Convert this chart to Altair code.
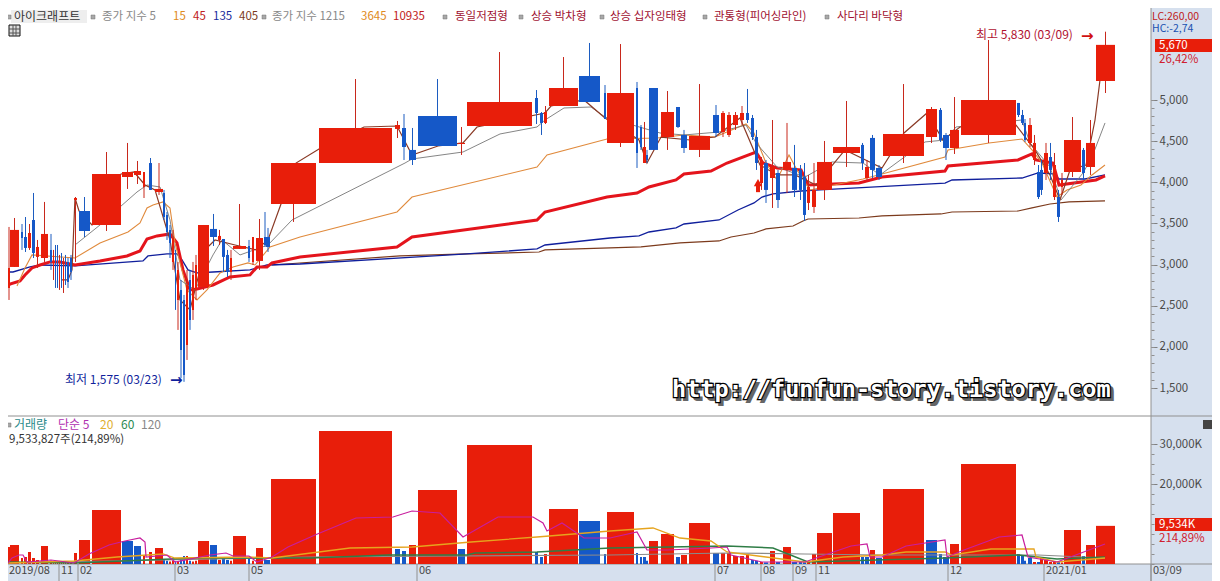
import altair as alt
import pandas as pd

FONT = "Noto Sans CJK KR"
RED = "#e81e0a"
BLUE = "#1558c8"
PANEL = "#d6e0ee"

# Equivolume candles: horizontal extent is cumulative traded volume. Ten values per line.
cum_start = [8,10,21,24,28,32,36,41,50,53,
 55,57,59,61,63,65,67,70,74,79,
 92,122,134,143,149,155,163,166,169,172,
 175,177,180,183,186,189,192,195,198,210,
 218,222,226,230,233,248,252,256,264,266,
 271,319,395,402,409,418,458,467,535,540,
 544,549,579,604,607,636,640,643,646,649,
 661,676,681,689,713,721,727,733,740,746,
 751,755,760,764,770,776,783,792,799,803,
 807,812,817,833,861,865,870,876,883,926,
 939,943,950,961,1017,1021,1024,1028,1033,1037,
 1040,1044,1049,1053,1057,1061,1064,1082,1086,1096]
cum_end = [10,19,23,27,31,35,39,48,52,54,
 56,58,60,62,64,66,69,72,77,90,
 121,133,141,145,152,163,165,168,171,174,
 176,179,182,185,188,191,194,197,209,217,
 221,225,229,232,246,250,254,263,266,270,
 316,392,400,406,416,457,465,532,538,543,
 547,578,600,606,634,638,642,646,648,658,
 674,680,687,710,719,725,731,738,744,749,
 754,758,763,768,775,780,791,797,802,806,
 810,816,832,860,864,869,875,882,924,937,
 942,949,959,1016,1020,1024,1026,1032,1036,1040,
 1043,1048,1052,1056,1060,1063,1081,1085,1095,1115]
direction = list("RRBBRBRRBR" "BBRBRBBBRB" "RRRRBRBBBR" "BRBBRBRRRB" "RBBRRBRRBB"
                 "RRRBBBRRBB" "RRBBRBBRBB" "RBBRBRRRRB" "BBRBRBRBBB" "RRRRBRBBRR"
                 "BBRRBBBRRB" "BRBRBRRBRR")
body_top = [2959,3421,3396,3335,3384,3542,3214,3372,3178,3117,
 3080,3032,2995,3056,2959,3032,3032,3080,3809,3651,
 4101,4125,4137,4125,4234,3919,3870,3603,3421,3323,
 3117,2935,2692,2570,2752,2813,2874,2995,3481,3433,
 3348,3311,3117,3080,3226,3226,3335,3323,3335,3335,
 4234,4660,4696,4660,4393,4806,4478,4976,5024,4842,
 4854,5146,5292,5085,5085,5146,4672,4429,4332,5146,
 4854,4915,4575,4563,4818,4842,4818,4818,4842,4842,
 4781,4550,4271,4234,4186,4113,4247,4174,4150,4064,
 3943,3907,4247,4429,4454,4186,4539,4174,4587,4891,
 4879,4575,4636,5000,4964,4818,4721,4696,4478,4125,
 4150,4356,4307,4210,3821,4028,4514,4393,4478,5670]
body_bottom = [2716,2971,3323,3202,3202,3141,3093,3080,3032,2959,
 2874,2789,2813,2874,2789,2862,2789,2910,3785,3408,
 3481,4064,4089,3943,3907,3882,3579,3396,3263,3032,
 2692,2570,1963,1659,2023,2327,2449,2692,2728,3335,
 3299,3093,2910,2910,3190,3080,3032,3044,3238,3214,
 3736,4234,4648,4429,4271,4441,4465,4684,4842,4721,
 4721,4927,4976,4769,4478,4356,4429,4234,4271,4393,
 4550,4672,4417,4393,4599,4611,4575,4696,4757,4757,
 4550,4234,3991,3907,4052,3785,4150,3907,3907,3603,
 3749,3700,3907,4356,4234,4052,4150,4064,4320,4550,
 4514,4417,4417,4575,4818,4721,4514,4478,4271,3821,
 3907,4113,4150,3821,3579,3943,4125,4113,4186,5231]
high = [3457,3566,3493,3578,3493,3870,3299,3761,3372,3178,
 3238,3238,3117,3141,3080,3117,3080,3117,3821,3821,
 4368,4478,4259,4125,4295,4234,3907,3639,3481,3421,
 3178,3032,2813,2631,2935,2935,3032,3117,3481,3615,
 3421,3311,3178,3178,3736,3299,3335,3554,3639,3445,
 4234,5255,4745,4830,4660,5255,4672,5583,5121,4854,
 4927,5522,5693,5182,5680,5219,4696,4733,4393,5146,
 5109,4915,4636,5194,4939,4866,4854,4854,4927,5134,
 4818,4636,4307,4271,4757,4150,4721,4454,4210,4234,
 4089,4234,4502,4988,4478,4271,4575,4210,5194,4915,
 4903,4599,5036,5729,4964,4879,4769,4781,4575,4210,
 4271,4478,4478,4356,3907,4113,4793,4417,4757,5830]
low = [2570,2971,3178,3153,3178,3080,2959,3032,2935,2813,
 2716,2716,2692,2716,2655,2752,2716,2813,3032,3335,
 3408,3919,3979,3809,3907,3846,3542,3299,3080,2935,
 2449,2206,1622,1575,1841,2206,2327,2570,2692,3226,
 3238,2910,2849,2813,3190,3032,2995,2935,3214,3153,
 3518,4234,4538,4271,4210,4441,4332,4684,4708,4575,
 4708,4927,4976,4769,4429,4174,4393,4234,4234,4393,
 4393,4660,4356,4307,4550,4550,4550,4636,4696,4721,
 4514,4150,3907,3749,3688,3688,3870,3821,3785,3530,
 3663,3627,3785,4186,4150,4028,4052,4028,4234,4478,
 4490,4271,4344,4478,4793,4696,4490,4429,4210,3797,
 3846,4028,4028,3785,3518,3846,4064,4028,4089,5085]
volume = [4250,4750,1500,1750,3000,1500,1000,4500,800,500,
 600,500,500,400,600,500,400,400,2750,6000,
 13500,5750,4500,2250,3000,4000,1250,800,600,800,
 700,500,1250,2000,2000,800,600,800,5750,4750,
 1000,1500,1000,800,7000,1500,800,4000,1000,1000,
 21250,33250,3750,3250,4750,18500,3750,29750,3000,1750,
 2500,13750,10750,2500,13000,2750,1750,1750,800,5750,
 7500,1750,2250,10250,2750,2750,2750,2000,2000,2500,
 1000,800,500,400,3250,500,4250,500,500,500,
 600,2500,7750,12750,1750,1750,3500,1500,18750,6000,
 2500,1750,5000,25000,2500,2000,800,1500,500,500,
 1750,1000,500,500,500,400,8500,2000,4750,9534]
vol_dir = list("RRRRRRRRRR" "RRRRRRRRRR" "RBBRRRBBRR" "BRBBRBRRRB" "RBBRRBRRBB"
               "RRBBRRBRBB" "RRBBRBBBBR" "RBRRBRRRRR" "BBRBRBRBBB" "RRRRBBRBRB"
               "BBRRBBBBRB" "RRRRBRRBRR")

# Moving averages: (position, price)
ma5_x = [62,68,72,75,79,92,121,134,145,155,170,180,190,205,215,235,256,268,281,296,319,364,397,412,438,463,477,545,551,584,605,639,647,661,690,715,740,760,777,795,816,845,882,904,927,943,960,1016,1035,1050,1060,1070,1086,1095,1100,1105]
ma5_v = [2813,2813,2935,3809,3651,3481,4101,4125,3967,3907,3299,2570,2449,3178,3299,3238,3178,3299,3736,4234,4405,4672,4684,4332,4441,4478,4672,4842,4927,5000,4781,4514,4234,4550,4514,4550,4781,4210,4089,4089,3967,4393,4174,4599,4842,4514,4672,4696,4393,4089,3785,4150,4210,4757,5243,5486]
ma1215_x = [75,100,120,137,147,160,170,180,195,213,222,240,268,292,405,412,463,500,537,545,564,591,605,660,684,719,746,756,777,805,832,863,880,925,945,956,1022,1030,1050,1061,1083,1092,1105]
ma1215_v = [3238,3481,3700,3882,3967,3943,3542,2813,2692,3117,3299,3117,3238,3542,4234,4283,4368,4587,4672,4757,4903,4915,4793,4599,4575,4611,4696,4478,4186,4064,4247,4234,4089,4490,4514,4672,4757,4478,4186,3785,4113,4307,4721]
ma3645_x = [17,25,32,75,100,128,140,147,153,163,170,175,180,187,197,207,220,233,248,255,270,300,397,412,537,547,607,657,684,715,746,754,766,777,789,797,810,863,882,945,948,989,1022,1032,1042,1057,1067,1081,1092,1105]
ma3645_v = [2740,2959,3117,3080,3263,3396,3506,3688,3724,3761,3688,3263,3020,2692,2570,2692,2898,2971,3020,2995,3214,3335,3639,3821,4186,4332,4526,4538,4575,4550,4708,4599,4234,4028,4332,4150,3907,4040,4101,4307,4393,4478,4526,4393,4234,3821,3907,3967,4089,4210]
ma10935_x = [8,10,20,25,32,40,50,60,75,100,127,140,147,157,170,177,183,190,197,213,230,250,257,267,272,300,397,412,537,545,607,637,649,676,684,711,727,756,763,777,801,808,859,882,945,948,1018,1032,1036,1053,1059,1096,1105]
ma10935_v = [2740,2764,2801,2874,2959,2995,3032,3032,2995,3044,3105,3165,3311,3348,3372,3263,2935,2692,2704,2752,2849,2874,2971,2971,3020,3093,3214,3335,3542,3639,3821,3870,3943,4028,4101,4137,4234,4368,4234,4174,4150,3967,3991,4064,4137,4198,4271,4344,4271,4234,3967,4028,4077]
ma135_x = [8,13,30,40,75,143,148,167,177,182,188,197,213,250,267,300,467,537,545,610,639,649,676,684,719,738,754,762,773,801,820,945,952,1022,1038,1054,1059,1085,1105]
ma135_v = [2910,2910,2971,2995,2983,3044,3105,3129,3129,3056,2935,2898,2910,2935,2995,3007,3129,3190,3238,3323,3348,3396,3445,3493,3542,3663,3749,3821,3858,3894,3907,3991,4028,4052,4113,4101,4040,4040,4089]
ma405_x = [272,400,467,539,545,610,641,680,719,731,754,766,793,803,808,859,882,941,952,1018,1032,1050,1069,1105]
ma405_v = [2995,3105,3129,3153,3178,3202,3214,3263,3287,3335,3384,3433,3469,3530,3554,3566,3591,3615,3639,3651,3688,3736,3761,3773]

# Volume averages
v5_x = [8,12,19,23,27,51,74,89,109,125,140,145,146,167,175,210,226,233,249,257,272,288,315,356,393,412,440,463,498,533,543,547,562,584,610,637,647,668,711,727,731,762,805,816,851,867,870,882,906,945,947,964,999,1022,1028,1057,1081,1105]
v5_v = [250,1500,2250,2250,500,1000,250,2500,4750,5750,6500,5500,1750,2250,500,2250,2750,2000,2000,500,1750,4250,7250,11500,11750,13250,12750,6750,11750,11750,10250,8250,10250,6500,6500,8000,3500,3500,4000,4250,2250,500,500,1500,4500,5000,1750,1750,4500,6000,1750,3500,6750,7250,1750,500,2750,5000]
v20_x = [8,74,117,163,175,249,272,350,412,471,537,610,653,680,711,727,758,805,843,882,906,945,952,991,1034,1036,1057,1105]
v20_v = [250,750,1750,2500,1500,1750,1500,4000,4250,5500,6750,8250,9000,6500,5750,3000,2000,500,1750,2250,3000,3000,2250,3750,3750,1750,500,1500]
v60_x = [8,74,195,249,311,389,467,475,537,610,727,773,808,945,1018,1057,1105]
v60_v = [500,250,1500,1500,1500,2250,2250,2750,3000,4000,4500,4000,500,1500,2250,1250,1750]
v120_x = [8,311,610,727,805,882,1038,1105]
v120_v = [250,1750,2250,2750,2500,2250,2250,1500]

price_ticks = [1500, 2000, 2500, 3000, 3500, 4000, 4500, 5000]
price_minor = list(range(1200, 6000, 100))
vol_ticks = [20000, 30000]
vol_minor = list(range(0, 35000, 2500))

month_pos = [59, 78, 175, 249, 417, 715, 761, 793, 816, 948, 1044, 1151]
month_labels = ["11", "02", "03", "05", "06", "07", "08", "09", "11", "12", "2021/01", "03/09"]

W, H = 1204, 573
AX = -(1212 - 1151)
X = alt.Scale(domain=[8, 1212], range=[0, W], nice=False, zero=False)
PY = alt.Scale(domain=[1500, 5000], range=[380, 92], nice=False, zero=False)
VY = alt.Scale(domain=[0, 30000], range=[556, 436], nice=False, zero=False)

df = pd.DataFrame(dict(s=cum_start, e=cum_end, top=body_top, bot=body_bottom, hi=high, lo=low,
                       vol=volume, d=direction, vd=vol_dir))
df["mid"] = (df.s + df.e) / 2
colors = alt.Scale(domain=["R", "B"], range=[RED, BLUE])
wicks = alt.Scale(domain=["R", "B"], range=["#c8281c", "#1c5cc0"])

def line(xs, vs, scale, color, width):
    d = pd.DataFrame({"x": xs, "v": vs})
    return alt.Chart(d).mark_line(color=color, strokeWidth=width, interpolate="linear").encode(
        x=alt.X("x:Q", scale=X, axis=None), y=alt.Y("v:Q", scale=scale, axis=None), order="x:Q")

def panel(x0, y0, x1, y1, color):
    return alt.Chart(pd.DataFrame({"a": [0]})).mark_rect(color=color).encode(
        x=alt.value(x0 - 8), x2=alt.value(x1 - 8), y=alt.value(y0 - 8), y2=alt.value(y1 - 8))

def rule_h(x0, x1, y, color="#909090", w=1):
    return alt.Chart(pd.DataFrame({"a": [0]})).mark_rule(color=color, strokeWidth=w).encode(
        x=alt.value(x0 - 8), x2=alt.value(x1 - 8), y=alt.value(y - 8))

def rule_v(x, y0, y1, color="#909090", w=1):
    return alt.Chart(pd.DataFrame({"a": [0]})).mark_rule(color=color, strokeWidth=w).encode(
        x=alt.value(x - 8), y=alt.value(y0 - 8), y2=alt.value(y1 - 8))

def label(text, x, y, color="#444444", size=12, align="left", font=FONT, weight="normal"):
    return alt.Chart(pd.DataFrame({"t": [text]})).mark_text(
        color=color, fontSize=size, align=align, baseline="middle", font=font, fontWeight=weight
    ).encode(x=alt.value(x - 8), y=alt.value(y - 8), text="t:N")

def bullet(x, y):
    return alt.Chart(pd.DataFrame({"a": [0]})).mark_rect(color="#a8a8a8", stroke="#777777", strokeWidth=0.5).encode(
        x=alt.value(x - 8 - 2), x2=alt.value(x - 8 + 2), y=alt.value(y - 8 - 2), y2=alt.value(y - 8 + 2))

layers = []
# panels
layers += [panel(1151, 8, 1212, 581, PANEL), panel(8, 564, 1212, 581, PANEL)]
layers += [rule_h(8, 1212, 416), rule_h(8, 1212, 564), rule_v(1151, 8, 581)]

# price averages below candles
layers += [
    line(ma405_x, ma405_v, PY, "#7c3a1c", 1.2),
    line(ma135_x, ma135_v, PY, "#101f9c", 1.3),
    line(ma10935_x, ma10935_v, PY, "#e4141c", 3),
    line(ma3645_x, ma3645_v, PY, "#e08a3c", 1.1),
    line(ma1215_x, ma1215_v, PY, "#777777", 0.9),
    line(ma5_x, ma5_v, PY, "#8a3a26", 1.2),
]

# price axis (major and minor) and candles
base = alt.Chart(df)
layers.append(base.mark_rule(strokeWidth=1).encode(
    x=alt.X("mid:Q", scale=X, axis=None),
    y=alt.Y("hi:Q", scale=PY, axis=alt.Axis(
        orient="right", offset=AX, values=price_ticks, format=",.0f", title=None, domain=False, grid=False,
        tickSize=6, tickColor="#808080", labelColor="#4a4a4a", labelFontSize=11.5, labelFont=FONT, labelPadding=2,
        labelOverlap=False, zindex=1)),
    y2="lo:Q",
    color=alt.Color("d:N", scale=wicks, legend=None)))
layers.append(base.mark_rect().encode(
    x=alt.X("s:Q", scale=X, axis=None), x2="e:Q",
    y=alt.Y("top:Q", scale=PY, axis=alt.Axis(
        orient="right", offset=AX, values=price_minor, labels=False, title=None, domain=False, grid=False,
        tickSize=3, tickColor="#909090", zindex=1)),
    y2="bot:Q",
    color=alt.Color("d:N", scale=colors, legend=None)))

# pattern signal arrow
layers.append(alt.Chart(pd.DataFrame({"x": [758], "v": [3995]})).mark_point(
    shape="triangle-up", size=70, filled=True, color=RED, opacity=1).encode(
    x=alt.X("x:Q", scale=X, axis=None), y=alt.Y("v:Q", scale=PY, axis=None)))
layers.append(alt.Chart(pd.DataFrame({"x": [756], "x2": [760], "v": [3985], "v2": [3880]})).mark_rect(color=RED).encode(
    x=alt.X("x:Q", scale=X, axis=None), x2="x2:Q", y=alt.Y("v:Q", scale=PY, axis=None), y2="v2:Q"))

# volume bars + axis
layers.append(base.mark_rect().encode(
    x=alt.X("s:Q", scale=X, axis=None), x2="e:Q",
    y=alt.Y("vol:Q", scale=VY, axis=alt.Axis(
        orient="right", offset=AX, values=vol_ticks, labelExpr="format(datum.value, ',') + 'K'", title=None,
        domain=False, grid=False, tickSize=6, tickColor="#808080", labelColor="#4a4a4a", labelFontSize=11.5,
        labelFont=FONT, labelPadding=2, labelOverlap=False, zindex=1)),
    y2=alt.Y2(datum=0),
    color=alt.Color("vd:N", scale=colors, legend=None)))
layers.append(alt.Chart(pd.DataFrame({"v": vol_minor})).mark_tick(opacity=0).encode(
    y=alt.Y("v:Q", scale=VY, axis=alt.Axis(
        orient="right", offset=AX, values=vol_minor, labels=False, title=None, domain=False, grid=False,
        tickSize=3, tickColor="#909090", zindex=1))))

# volume averages
layers += [
    line(v120_x, v120_v, VY, "#8a8a8a", 1.2),
    line(v60_x, v60_v, VY, "#2f7d46", 1.5),
    line(v20_x, v20_v, VY, "#e6a41e", 1.3),
    line(v5_x, v5_v, VY, "#c81e9e", 1.2),
]

# x axis months
months = pd.DataFrame({"x": month_pos, "t": month_labels})
layers.append(alt.Chart(months).mark_rule(color="#909090").encode(
    x=alt.X("x:Q", scale=X, axis=None), y=alt.value(564 - 8), y2=alt.value(581 - 8)))
layers.append(alt.Chart(months).mark_text(
    align="left", baseline="middle", fontSize=11, font=FONT, color="#4a4a4a", dx=2).encode(
    x=alt.X("x:Q", scale=X, axis=None), y=alt.value(571 - 8), text="t:N"))
layers.append(label("2019/08", 9, 571, size=11))

# header
HY = 17
layers += [panel(11, 10, 87, 23, "#eeeeee"), bullet(9, HY)]
layers += [label("아이크래프트", 14, HY, "#333333", 12)]
layers += [
    bullet(93, HY), label("종가 지수 5", 102, HY, "#888888", 11.5),
    label("15", 173, HY, "#e08a20", 11.5), label("45", 193, HY, "#c02020", 11.5),
    label("135", 213, HY, "#1a2a9c", 11.5), label("405", 239, HY, "#7c3a1c", 11.5),
    bullet(264, HY), label("종가 지수 1215", 272, HY, "#888888", 11.5),
    label("3645", 361, HY, "#e08a20", 11.5), label("10935", 393, HY, "#c02020", 11.5),
    bullet(445, HY), label("동일저점형", 455, HY, "#a01030", 11.5),
    bullet(521, HY), label("상승 박차형", 531, HY, "#a01030", 11.5),
    bullet(602, HY), label("상승 십자잉태형", 610, HY, "#a01030", 11.5),
    bullet(705, HY), label("관통형(피어싱라인)", 714, HY, "#a01030", 11.5),
    bullet(827, HY), label("사다리 바닥형", 837, HY, "#a01030", 11.5),
]
# table icon
layers.append(alt.Chart(pd.DataFrame({"a": [0]})).mark_rect(color="#dddddd", stroke="#111111", strokeWidth=1).encode(
    x=alt.value(1), x2=alt.value(12), y=alt.value(17), y2=alt.value(28)))
layers += [rule_h(9, 20, 29, "#555555"), rule_h(9, 20, 33, "#555555"), rule_v(13, 25, 36, "#555555"), rule_v(16, 25, 36, "#555555")]

# right panel texts
layers += [
    label("LC:260,00", 1152, 17, "#c02020", 10.5), label("HC:-2,74", 1152, 29, "#1a50b0", 10.5),
    panel(1155, 39, 1212, 52, RED), label("5,670", 1159, 45.5, "#ffffff", 11.5),
    label("26,42%", 1159, 60, "#d02030", 11.5),
    panel(1155, 518, 1212, 531, RED), label("9,534K", 1159, 524.5, "#ffffff", 11.5),
    label("214,89%", 1159, 539, "#d02030", 11.5),
]

# volume legend
layers += [
    bullet(9, 425), label("거래량", 14, 425, "#2a8a8a", 12),
    label("단순 5", 58, 425, "#b030b0", 12), label("20", 100, 425, "#e0b030", 12),
    label("60", 121, 425, "#2a8a50", 12), label("120", 141, 425, "#888888", 12),
    label("9,533,827주(214,89%)", 9, 440, "#333333", 11.5),
]
layers.append(alt.Chart(pd.DataFrame({"a": [0]})).mark_rect(color="#444444").encode(
    x=alt.value(1203 - 8), x2=alt.value(1212 - 8), y=alt.value(420 - 8), y2=alt.value(429 - 8)))

# extremes
layers += [
    label("최저 1,575 (03/23)", 65, 380, "#101f9c", 12),
    label("→", 170, 380, "#101f9c", 15, font="DejaVu Sans", weight="bold"),
    label("최고 5,830 (03/09)", 976, 35, "#b01030", 12),
    label("→", 1081, 36, "#d01010", 15, font="DejaVu Sans", weight="bold"),
]

# watermark
WM = "http://funfun-story.tistory.com"
wm_font = "DejaVu Sans Mono"
def wm(dx, dy, fill, stroke=None, sw=0):
    props = dict(color=fill, fontSize=23.5, fontWeight="bold", font=wm_font, align="left", baseline="middle")
    if stroke:
        props.update(stroke=stroke, strokeWidth=sw)
    return alt.Chart(pd.DataFrame({"t": [WM]})).mark_text(**props).encode(
        x=alt.value(672 - 8 + dx), y=alt.value(390 - 8 + dy), text="t:N")
layers += [wm(3, 3, "#666666", "#666666", 2), wm(0, 0, "#000000", "#000000", 2.4), wm(0, 0, "#ffffff")]

chart = alt.layer(*layers).resolve_scale(y="independent", color="independent").properties(
    width=W, height=H, padding=0, autosize=alt.AutoSizeParams(type="none"), background="#ffffff"
).configure_view(stroke=None)

chart.save("out.html", embed_options={"renderer": "svg", "actions": False})
